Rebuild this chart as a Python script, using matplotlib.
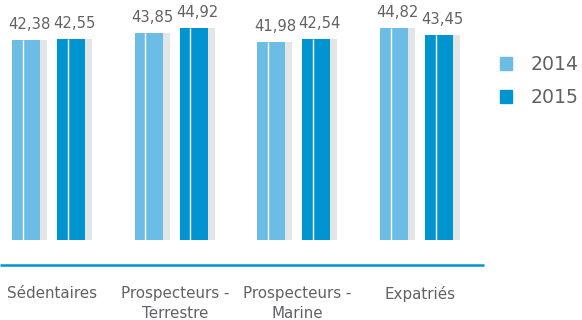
import matplotlib
matplotlib.use("Agg")
import matplotlib.pyplot as plt
from matplotlib.patches import Patch
import numpy as np

# -------------------- DATA --------------------
categories = ["Sédentaires", "Prospecteurs -\nTerrestre", "Prospecteurs -\nMarine", "Expatriés"]
years = ["2014", "2015"]
values_2014 = [42.38, 43.85, 41.98, 44.82]
values_2015 = [42.55, 44.92, 42.54, 43.45]
value_labels_2014 = ["42,38", "43,85", "41,98", "44,82"]
value_labels_2015 = ["42,55", "44,92", "42,54", "43,45"]

# -------------------- STYLE --------------------
C_2014 = "#6cbde6"
C_2015 = "#0095d0"
C_SHADOW = "#e4e5e7"
C_TEXT = "#616265"
W, H = 582, 320
PITCH = 122.7          # px between groups
PX_PER_UNIT = 4.72     # px per value unit
BASE_Y = 240           # px from top where value 0 sits
X0 = 52                # px of first group centre

plt.rcParams['font.family'] = ['DejaVu Sans']

fig = plt.figure(figsize=(W / 100, H / 100), dpi=100)
ax = fig.add_axes([0, 0, 1, 1])
ax.set_xlim(-X0 / PITCH, (W - X0) / PITCH)
ax.set_ylim(-(H - BASE_Y) / PX_PER_UNIT, BASE_Y / PX_PER_UNIT)
ax.axis("off")

x = np.arange(len(categories))
bw = 28 / PITCH
sw = 7 / PITCH
offsets = [-40 / PITCH, 5 / PITCH]
white_off = 10.5 / PITCH

for vals, labs, col, off in [(values_2014, value_labels_2014, C_2014, offsets[0]),
                             (values_2015, value_labels_2015, C_2015, offsets[1])]:
    left = x + off
    ax.bar(left, vals, width=bw + sw, align="edge", color=C_SHADOW, zorder=1)
    ax.bar(left, vals, width=bw, align="edge", color=col, zorder=2)
    ax.vlines(left + white_off, 0, vals, color="white", lw=1.0, zorder=3)
    for xi, v, lab in zip(left, vals, labs):
        ax.annotate(lab, (xi + (bw + sw) / 2, v), xytext=(0, 8), textcoords="offset points",
                    ha="center", va="baseline", fontsize=10.6, color=C_TEXT)

# baseline rule
line_y = -(265 - BASE_Y) / PX_PER_UNIT
ax.hlines(line_y, ax.get_xlim()[0], (484 - X0) / PITCH, color=C_2015, lw=1.8)

# category labels
lab_y = -(286 - BASE_Y) / PX_PER_UNIT
for xi, c in zip(x, categories):
    ax.text(xi, lab_y, c, ha="center", va="top", fontsize=10.9, color=C_TEXT, linespacing=1.4)

handles = [Patch(color=C_2014), Patch(color=C_2015)]
ax.legend(handles, years, loc="center left", bbox_to_anchor=(500 / W, 1 - 81 / H),
          bbox_transform=fig.transFigure, frameon=False, fontsize=13.6,
          handlelength=0.64, handleheight=0.64, handletextpad=1.0, labelspacing=0.75,
          borderpad=0, borderaxespad=0, labelcolor=C_TEXT)

fig.savefig("out.png", dpi=100)
